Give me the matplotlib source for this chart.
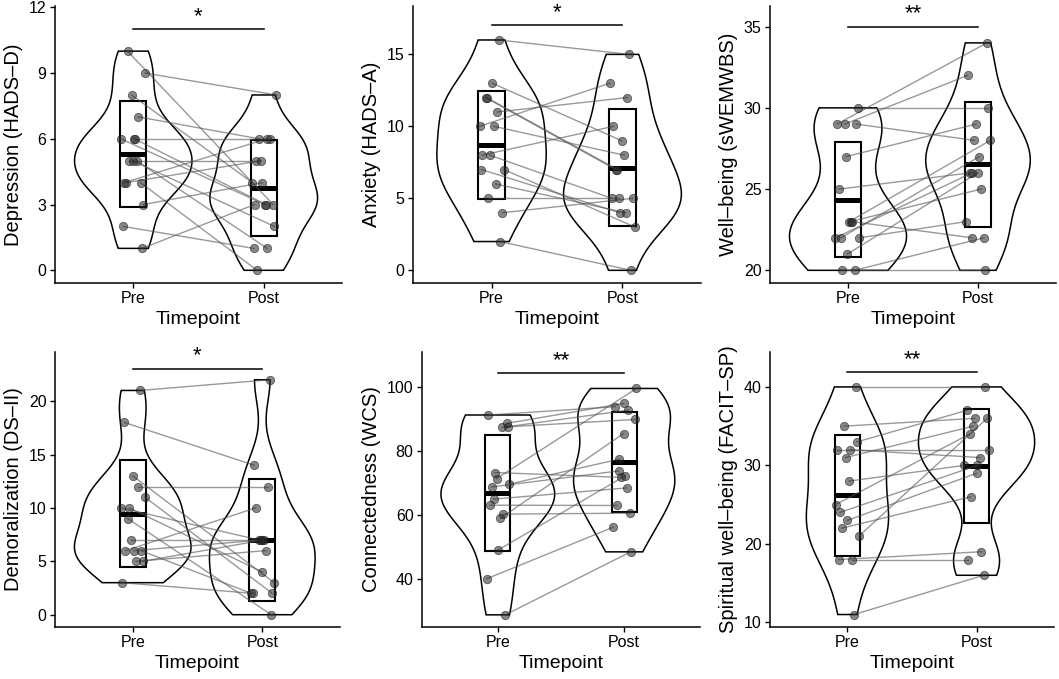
import numpy as np
import matplotlib
matplotlib.use('Agg')
import matplotlib.pyplot as plt
from matplotlib.patches import Rectangle

plt.rcParams['font.family'] = ['Liberation Sans', 'DejaVu Sans']

categories = ['Pre', 'Post']
xlabel = 'Timepoint'

# Depression (HADS-D)
dep_label = 'Depression (HADS–D)'
dep_pre = [10, 9, 8, 7, 6, 6, 6, 5, 5, 5, 4, 4, 4, 3, 2, 1]
dep_post = [3, 8, 4, 6, 3, 3, 6, 5, 1, 2, 6, 5, 0, 4, 1, 3]
dep_pre_jit = [-0.044, 0.09, -0.013, 0.038, -0.095, 0.008, 0.015, -0.03, 0.026, -0.005, -0.07, -0.056, 0.056, 0.077, -0.077, 0.067]
dep_post_jit = [0.072, 0.097, -0.087, -0.036, 0.008, 0.018, 0.046, -0.056, 0.026, 0.082, 0.026, -0.02, -0.051, -0.01, -0.077, -0.07]
dep_ticks = [0, 3, 6, 9, 12]
dep_ylim = (-0.58, 12.06)
dep_sig = '*'
dep_sig_y = 11.0

# Anxiety (HADS-A)
anx_label = 'Anxiety (HADS–A)'
anx_pre = [16, 13, 12, 12, 11, 10, 10, 8, 8, 7, 7, 6, 5, 4, 2]
anx_post = [15, 9, 7, 7, 12, 13, 8, 10, 5, 4, 3, 4, 5, 5, 0]
anx_pre_jit = [0.056, 0.005, -0.046, -0.038, 0.044, -0.092, 0.018, -0.072, -0.013, -0.077, 0.095, 0.031, -0.026, 0.082, 0.064]
anx_post_jit = [0.051, -0.005, -0.051, -0.038, 0.038, -0.095, 0.013, -0.069, -0.082, -0.021, 0.097, 0.026, -0.026, 0.077, 0.064]
anx_ticks = [0, 5, 10, 15]
anx_ylim = (-0.88, 18.36)
anx_sig = '*'
anx_sig_y = 17.04

# Well-being (sWEMWBS)
wb_label = 'Well–being (sWEMWBS)'
wb_pre = [30, 29, 29, 29, 27, 25, 23, 23, 23, 22, 22, 22, 21, 20, 20]
wb_post = [30, 34, 32, 28, 29, 26, 28, 25, 22, 26, 27, 23, 26, 22, 20]
wb_pre_jit = [0.077, -0.085, -0.026, 0.064, -0.015, -0.067, 0.01, 0.02, 0.031, -0.097, -0.054, 0.087, -0.005, 0.051, -0.046]
wb_post_jit = [0.077, 0.069, -0.079, -0.028, -0.015, -0.059, 0.095, 0.023, -0.046, -0.046, 0.01, -0.09, 0.0, 0.044, 0.051]
wb_ticks = [20, 25, 30, 35]
wb_ylim = (19.22, 36.27)
wb_sig = '**'
wb_sig_y = 35.0

# Demoralization (DS-II)
dem_label = 'Demoralization (DS–II)'
dem_pre = [21, 18, 13, 12, 11, 10, 10, 9, 7, 6, 6, 6, 5, 5, 3]
dem_post = [22, 14, 3, 12, 2, 7, 4, 0, 7, 10, 7, 2, 6, 7, 2]
dem_pre_jit = [0.056, -0.064, 0.0, 0.038, 0.095, -0.09, -0.026, -0.038, -0.013, -0.056, 0.008, 0.064, 0.026, 0.077, -0.082]
dem_post_jit = [0.056, -0.064, 0.092, 0.041, 0.077, -0.026, 0.0, 0.069, -0.013, -0.051, 0.0, -0.085, 0.026, 0.013, -0.072]
dem_ticks = [0, 5, 10, 15, 20]
dem_ylim = (-1.15, 24.6)
dem_sig = '*'
dem_sig_y = 23.05

# Connectedness (WCS)
con_label = 'Connectedness (WCS)'
con_pre = [91.2, 88.6, 87.5, 87.3, 73.2, 71.3, 69.6, 68.7, 64.9, 63.0, 60.2, 58.9, 49.0, 40.0, 28.7]
con_post = [93.8, 94.8, 89.8, 92.7, 71.7, 99.5, 77.4, 73.7, 68.4, 62.9, 60.5, 85.4, 72.1, 56.1, 48.4]
con_pre_jit = [-0.074, 0.072, 0.077, 0.033, -0.023, -0.01, 0.092, -0.049, -0.031, -0.062, 0.041, 0.021, 0.003, -0.087, 0.059]
con_post_jit = [-0.069, -0.005, 0.085, 0.031, -0.026, 0.097, -0.038, -0.044, 0.021, -0.059, 0.044, -0.005, 0.005, -0.087, 0.051]
con_ticks = [40, 60, 80, 100]
con_ylim = (24.9, 110.9)
con_sig = '**'
con_sig_y = 104.3

# Spiritual well-being (FACIT-SP)
sp_label = 'Spiritual well–being (FACIT–SP)'
sp_pre = [40, 35, 33, 32, 32, 31, 28, 25, 24, 23, 22, 21, 18, 18, 11]
sp_post = [40, 36, 37, 32, 31, 35, 30, 34, 30, 29, 26, 36, 19, 18, 16]
sp_pre_jit = [0.069, -0.026, 0.074, -0.079, 0.023, -0.015, 0.013, -0.092, -0.059, 0.0, -0.044, 0.09, -0.067, 0.038, 0.051]
sp_post_jit = [0.069, -0.015, -0.077, 0.095, 0.026, -0.026, -0.097, -0.054, 0.005, 0.0, -0.046, 0.082, 0.038, -0.067, 0.056]
sp_ticks = [10, 20, 30, 40]
sp_ylim = (9.41, 44.45)
sp_sig = '**'
sp_sig_y = 41.9

panels = [
    (dep_label, dep_pre, dep_post, dep_pre_jit, dep_post_jit, dep_ticks, dep_ylim, dep_sig, dep_sig_y),
    (anx_label, anx_pre, anx_post, anx_pre_jit, anx_post_jit, anx_ticks, anx_ylim, anx_sig, anx_sig_y),
    (wb_label, wb_pre, wb_post, wb_pre_jit, wb_post_jit, wb_ticks, wb_ylim, wb_sig, wb_sig_y),
    (dem_label, dem_pre, dem_post, dem_pre_jit, dem_post_jit, dem_ticks, dem_ylim, dem_sig, dem_sig_y),
    (con_label, con_pre, con_post, con_pre_jit, con_post_jit, con_ticks, con_ylim, con_sig, con_sig_y),
    (sp_label, sp_pre, sp_post, sp_pre_jit, sp_post_jit, sp_ticks, sp_ylim, sp_sig, sp_sig_y),
]

# axes boxes in pixels: left, right, top, bottom
W, H = 1059, 679
boxes = [
    (55, 342, 6, 283), (413, 701, 6, 283), (770, 1056, 6, 283),
    (55, 340, 352, 627), (422, 700, 352, 627), (770, 1054, 352, 627),
]


def kde(vals):
    v = np.asarray(vals, float)
    n = len(v)
    sd = v.std(ddof=1)
    q75, q25 = np.percentile(v, [75, 25])
    lo = min(sd, (q75 - q25) / 1.34)
    if lo <= 0:
        lo = sd
    bw = 0.9 * lo * n ** (-0.2)
    y = np.linspace(v.min(), v.max(), 512)
    d = np.exp(-0.5 * ((y[:, None] - v[None, :]) / bw) ** 2).sum(1) / (n * bw * np.sqrt(2 * np.pi))
    return y, d


fig = plt.figure(figsize=(W / 100, H / 100), dpi=100)

for (label, pre, post, pre_j, post_j, ticks, ylim, sig, sig_y), (l, r, t, b) in zip(panels, boxes):
    ax = fig.add_axes([l / W, 1 - b / H, (r - l) / W, (b - t) / H])
    groups = [np.asarray(pre, float), np.asarray(post, float)]
    dens = [kde(g) for g in groups]
    dmax = max(d.max() for _, d in dens)
    for pos, (yy, d) in zip([1, 2], dens):
        half = d / dmax * 0.45
        xs = np.concatenate([pos - half, (pos + half)[::-1]])
        ys = np.concatenate([yy, yy[::-1]])
        ax.fill(xs, ys, facecolor='white', edgecolor='black', lw=1.1, zorder=1)
    for pos, g in zip([1, 2], groups):
        m = g.mean()
        s = g.std(ddof=1)
        ax.add_patch(Rectangle((pos - 0.1, m - s), 0.2, 2 * s, facecolor='none',
                               edgecolor='black', lw=1.5, zorder=2))
        ax.plot([pos - 0.1, pos + 0.1], [m, m], color='black', lw=3.6,
                solid_capstyle='butt', zorder=2)
    xpre = 1 + np.asarray(pre_j)
    xpost = 2 + np.asarray(post_j)
    for x0, x1, y0, y1 in zip(xpre, xpost, pre, post):
        ax.plot([x0, x1], [y0, y1], color='#555555', alpha=0.6, lw=1.0, zorder=3)
    ax.plot(np.concatenate([xpre, xpost]), np.concatenate([pre, post]), 'o',
            ms=6.0, mfc=(0.15, 0.15, 0.15, 0.55), mec=(0.1, 0.1, 0.1, 0.6), mew=0.6,
            zorder=4, linestyle='none')
    # significance bar
    ax.plot([1, 2], [sig_y, sig_y], color='black', lw=1.1, clip_on=False, zorder=5)
    ax.annotate(sig, xy=(1.5, sig_y), xytext=(0, 1.5), textcoords='offset points',
                ha='center', va='bottom', fontsize=16, annotation_clip=False)

    ax.set_xlim(0.4, 2.6)
    ax.set_ylim(*ylim)
    ax.set_xticks([1, 2])
    ax.set_xticklabels(categories)
    ax.set_yticks(ticks)
    ax.set_yticklabels([str(tk) for tk in ticks])
    for sp in ['top', 'right']:
        ax.spines[sp].set_visible(False)
    for sp in ['left', 'bottom']:
        ax.spines[sp].set_linewidth(1.1)
    ax.tick_params(direction='out', length=3.6, width=1.0, labelsize=11.5,
                   colors='black', pad=2.5)
    ax.set_xlabel(xlabel, fontsize=14, labelpad=3)
    ax.set_ylabel(label, fontsize=14.5, labelpad=4)

fig.savefig('out.png', dpi=100)
